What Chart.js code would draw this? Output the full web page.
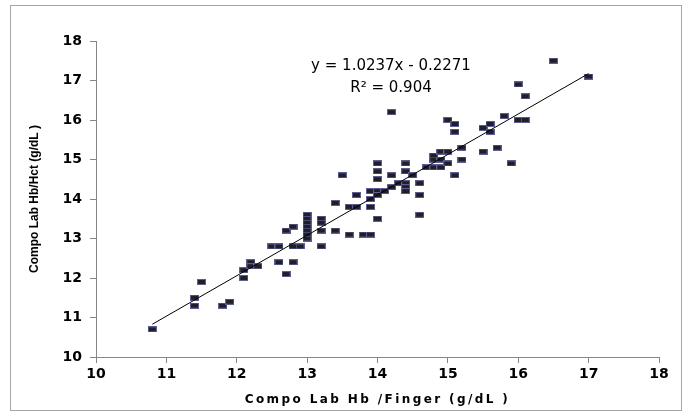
<!DOCTYPE html>
<html>
<head>
<meta charset="utf-8">
<script src="https://cdn.jsdelivr.net/npm/chart.js@4"></script>
<style>
  html, body { margin: 0; padding: 0; background: #fff; }
  #wrap { position: relative; width: 689px; height: 418px; }
</style>
</head>
<body>
<div id="wrap"><canvas id="grafico" width="689" height="418"></canvas></div>
<script>
// Compo Lab Hb /Finger (x) vs Compo Lab Hb/Hct (y), g/dL
const hbFinger = [
  10.8, 11.4, 11.4, 11.5, 11.8, 11.9, 12.1, 12.1, 12.2, 12.2, 12.3,
  12.5, 12.6, 12.6, 12.7, 12.7, 12.8, 12.8, 12.8, 12.9,
  13.0, 13.0, 13.0, 13.0, 13.0, 13.0, 13.0, 13.2, 13.2, 13.2, 13.2,
  13.4, 13.4, 13.5, 13.6, 13.7, 13.6, 13.7, 13.8, 13.9, 13.9, 13.9, 13.9,
  14.0, 14.0, 14.0, 14.0, 14.0, 14.0, 14.1, 14.2, 14.2, 14.2, 14.3,
  14.4, 14.4, 14.4, 14.4, 14.4, 14.5, 14.6, 14.6, 14.6,
  14.7, 14.8, 14.9, 14.8, 14.8, 14.9, 15.0, 14.9, 15.0, 15.0,
  15.1, 15.1, 15.1, 15.2, 15.2, 15.5, 15.5, 15.6, 15.6, 15.7,
  15.8, 15.9, 16.0, 16.0, 16.1, 16.1, 16.5, 17.0,
];
const hbHct = [
  10.7, 11.5, 11.3, 11.9, 11.3, 11.4, 12.2, 12.0, 12.4, 12.3, 12.3,
  12.8, 12.8, 12.4, 13.2, 12.1, 13.3, 12.8, 12.4, 12.8,
  13.6, 13.5, 13.4, 13.3, 13.2, 13.1, 13.0, 13.5, 13.4, 13.2, 12.8,
  13.9, 13.2, 14.6, 13.8, 13.8, 13.1, 14.1, 13.1, 13.1, 13.8, 14.0, 14.2,
  14.9, 14.7, 14.5, 14.2, 14.1, 13.5, 14.2, 16.2, 14.6, 14.3, 14.4,
  14.9, 14.7, 14.4, 14.3, 14.2, 14.6, 14.4, 14.1, 13.6,
  14.8, 14.8, 14.8, 15.1, 15.0, 15.2, 15.2, 15.0, 14.9, 16.0,
  15.9, 15.7, 14.6, 15.3, 15.0, 15.8, 15.2, 15.9, 15.7, 15.3,
  16.1, 14.9, 16.9, 16.0, 16.6, 16.0, 17.5, 17.1,
];

// trendline from the equation on the chart
const slope = 1.0237;
const intercept = -0.2271;
const trendX = [10.8, 17.0];
const eqLabels = ["y = 1.0237x - 0.2271", "R\u00B2 = 0.904"];

const axisMin = 10;
const axisMax = 18;

const pontos = hbFinger.map((x, i) => ({ x: x, y: hbHct[i] }));
const linha = trendX.map((x) => ({ x: x, y: slope * x + intercept }));

// small rectangular marker like the original
const marcador = document.createElement("canvas");
marcador.width = 9;
marcador.height = 6;
const mctx = marcador.getContext("2d");
mctx.fillStyle = "#5e5e96";
mctx.fillRect(0, 0, 9, 6);
mctx.fillStyle = "#1f1f27";
mctx.fillRect(1, 1, 7, 4);

const molduraPlugin = {
  id: "moldura",
  beforeDraw(chart) {
    const ctx = chart.ctx;
    ctx.save();
    ctx.strokeStyle = "#a6a6a6";
    ctx.lineWidth = 1;
    ctx.strokeRect(10.5, 5.5, 671, 405);
    ctx.restore();
  },
  afterLayout(chart) {
    const s = chart.scales.x;
    if (!s._espacado) {
      const orig = s.drawTitle.bind(s);
      s.drawTitle = function () {
        this.ctx.save();
        this.ctx.letterSpacing = "2.4px";
        orig();
        this.ctx.restore();
      };
      s._espacado = true;
    }
  },
  afterDraw(chart) {
    const ctx = chart.ctx;
    ctx.save();
    ctx.fillStyle = "#000";
    ctx.font = "15px 'DejaVu Sans'";
    ctx.textAlign = "center";
    ctx.textBaseline = "middle";
    ctx.fillText(eqLabels[0], 391, 66);
    ctx.fillText(eqLabels[1], 391, 88);
    ctx.restore();
  },
};

const corEixo = "#868686";

new Chart(document.getElementById("grafico").getContext("2d"), {
  type: "scatter",
  data: {
    datasets: [
      {
        type: "line",
        data: linha,
        borderColor: "#000",
        borderWidth: 1,
        pointRadius: 0,
        fill: false,
        order: 0,
      },
      {
        data: pontos,
        pointStyle: marcador,
        pointRadius: 5,
        order: 1,
      },
    ],
  },
  options: {
    responsive: false,
    animation: false,
    layout: { padding: { top: 41, right: 30, left: 0, bottom: 0 } },
    plugins: {
      legend: { display: false },
      tooltip: { enabled: false },
    },
    scales: {
      x: {
        type: "linear",
        min: axisMin,
        max: axisMax,
        afterFit: (s) => { s.height = 61; },
        ticks: {
          stepSize: 1,
          color: "#000",
          padding: 3,
          font: { family: "'DejaVu Sans'", size: 14, weight: "bold" },
        },
        grid: { drawOnChartArea: false, drawTicks: true, tickLength: 6, color: corEixo },
        border: { color: corEixo, width: 1 },
        title: {
          display: true,
          text: "Compo Lab Hb /Finger (g/dL )",
          color: "#000",
          padding: { top: 0, bottom: 11 },
          font: { family: "'DejaVu Sans'", size: 12, weight: "bold" },
        },
      },
      y: {
        type: "linear",
        min: axisMin,
        max: axisMax,
        afterFit: (s) => { s.width = 96; },
        ticks: {
          stepSize: 1,
          color: "#000",
          padding: 8,
          font: { family: "'DejaVu Sans'", size: 14, weight: "bold" },
        },
        grid: { drawOnChartArea: false, drawTicks: true, tickLength: 6, color: corEixo },
        border: { color: corEixo, width: 1 },
        title: {
          display: true,
          text: "Compo Lab Hb/Hct (g/dL )",
          color: "#000",
          padding: { top: 27, bottom: 0 },
          font: { family: "'Liberation Sans'", size: 12, weight: "bold" },
        },
      },
    },
  },
  plugins: [molduraPlugin],
});
</script>
</body>
</html>
